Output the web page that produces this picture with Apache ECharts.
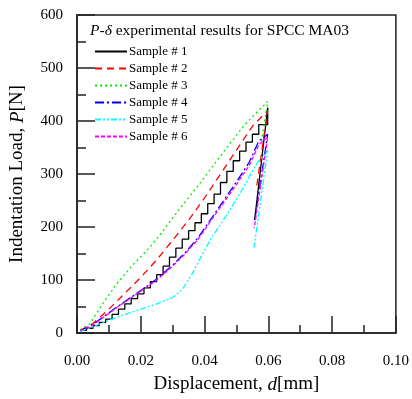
<!DOCTYPE html>
<html>
<head>
<meta charset="utf-8">
<script src="https://cdn.jsdelivr.net/npm/echarts@6/dist/echarts.min.js"></script>
<style>
  html, body { margin: 0; padding: 0; background: #fff; }
  #chart { width: 412px; height: 399px; }
</style>
</head>
<body>
<div id="chart"></div>
<script>
// sample names (legend)
const sampleNames = ['Sample # 1', 'Sample # 2', 'Sample # 3', 'Sample # 4', 'Sample # 5', 'Sample # 6'];

// loading branches [d (mm), P (N)]
const sample1Load = [
    [0.001, 5], [0.003, 9], [0.005, 14], [0.007, 20], [0.009, 26], [0.011, 35],
    [0.013, 45], [0.015, 55], [0.017, 65], [0.019, 74], [0.021, 85], [0.023, 97],
    [0.025, 110], [0.027, 126], [0.029, 143], [0.031, 160], [0.033, 177], [0.035, 193],
    [0.037, 208], [0.039, 225], [0.041, 244], [0.043, 262], [0.045, 284], [0.047, 305],
    [0.049, 325], [0.051, 343], [0.053, 360], [0.055, 375], [0.057, 393], [0.0598, 425]
];
const sample1Unload = [[0.0598, 425], [0.0557, 213]];

const sample2 = [
    [0.001, 5], [0.005, 18], [0.010, 45], [0.015, 75], [0.020, 105], [0.025, 138],
    [0.030, 175], [0.035, 213], [0.040, 255], [0.045, 300], [0.050, 345], [0.055, 390],
    [0.0598, 420], [0.0562, 270]
];
const sample3 = [
    [0.001, 6], [0.004, 17], [0.008, 55], [0.0125, 93], [0.017, 125], [0.0227, 161],
    [0.026, 185], [0.030, 217], [0.034, 248], [0.038, 278], [0.042, 310], [0.046, 342],
    [0.0523, 391], [0.0565, 417], [0.0598, 437], [0.0578, 360]
];
const sample4 = [
    [0.001, 4], [0.005, 16], [0.0125, 49], [0.020, 80], [0.025, 102], [0.030, 128],
    [0.034, 152], [0.038, 180], [0.042, 215], [0.046, 250], [0.050, 285], [0.054, 322],
    [0.057, 362], [0.0598, 375], [0.0558, 215]
];
const sample5 = [
    [0.001, 3], [0.005, 12], [0.010, 24], [0.015, 35], [0.020, 45], [0.025, 55],
    [0.030, 67], [0.033, 82], [0.036, 110], [0.039, 145], [0.042, 178], [0.045, 205],
    [0.048, 233], [0.051, 262], [0.054, 295], [0.057, 325], [0.0598, 345], [0.0555, 161]
];
const sample6 = [
    [0.001, 4], [0.005, 15], [0.0125, 48], [0.020, 79], [0.025, 100], [0.030, 126],
    [0.034, 150], [0.038, 177], [0.042, 212], [0.046, 246], [0.050, 280], [0.054, 316],
    [0.057, 355], [0.0598, 370], [0.0556, 198]
];

const serif = '"Liberation Serif", "Times New Roman", serif';

const chart = echarts.init(document.getElementById('chart'));

const mkLine = (name, data, color, type, extra) => Object.assign({
    name: name,
    type: 'line',
    data: data,
    symbol: 'none',
    smooth: false,
    lineStyle: { color: color, width: 1.3, type: type },
    itemStyle: { color: color },
    z: 3
}, extra || {});

const option = {
    animation: false,
    backgroundColor: '#fff',
    grid: {
        left: 77, right: 14, top: 15, bottom: 63,
        show: true, borderColor: '#222', borderWidth: 1.5
    },
    graphic: [{
        type: 'text',
        left: 90, top: 23,
        style: {
            text: '{i|P}-{i|δ} experimental results for SPCC MA03',
            font: '15.5px ' + serif,
            fill: '#000',
            rich: { i: { fontStyle: 'italic', fontSize: 15.5, fontFamily: serif } }
        }
    }],
    legend: {
        data: sampleNames,
        orient: 'vertical',
        left: 94, top: 44,
        itemWidth: 32, itemHeight: 10, itemGap: 2,
        itemStyle: { opacity: 0 },
        textStyle: { fontFamily: serif, fontSize: 13, lineHeight: 15, color: '#000', padding: [0, 0, 0, -3] },
        padding: 0
    },
    xAxis: {
        type: 'value',
        min: 0, max: 0.1, interval: 0.02,
        name: 'Displacement, {i|d}[mm]',
        nameLocation: 'middle',
        nameGap: 42,
        nameTextStyle: {
            fontFamily: serif, fontSize: 19, color: '#000',
            rich: { i: { fontStyle: 'italic', fontSize: 19, fontFamily: serif } }
        },
        axisLine: { lineStyle: { color: '#222', width: 1.5 } },
        axisTick: { inside: true, length: 17, lineStyle: { color: '#222', width: 1.5 } },
        minorTick: { show: true, splitNumber: 2, length: 8, lineStyle: { color: '#222', width: 1.5 } },
        splitLine: { show: false },
        axisLabel: {
            margin: 21, fontFamily: serif, fontSize: 15, color: '#000',
            formatter: v => v.toFixed(2)
        }
    },
    yAxis: {
        type: 'value',
        min: 0, max: 600, interval: 100,
        name: 'Indentation Load, {i|P}[N]',
        nameLocation: 'middle',
        nameGap: 50,
        nameTextStyle: {
            fontFamily: serif, fontSize: 19, color: '#000',
            rich: { i: { fontStyle: 'italic', fontSize: 19, fontFamily: serif } }
        },
        axisLine: { lineStyle: { color: '#222', width: 1.5 } },
        axisTick: { inside: true, length: 18, lineStyle: { color: '#222', width: 1.5 } },
        minorTick: { show: true, splitNumber: 2, length: 9, lineStyle: { color: '#222', width: 1.5 } },
        splitLine: { show: false },
        axisLabel: { margin: 14, fontFamily: serif, fontSize: 15, color: '#000' }
    },
    series: [
        mkLine(sampleNames[0], sample1Load, '#000000', 'solid', { step: 'end' }),
        mkLine(sampleNames[0], sample1Unload, '#000000', 'solid'),
        mkLine(sampleNames[1], sample2, '#ff0000', [7, 5]),
        mkLine(sampleNames[2], sample3, '#00ee00', [2, 3]),
        mkLine(sampleNames[3], sample4, '#0000ff', [9, 3, 2, 3]),
        mkLine(sampleNames[4], sample5, '#00ffff', [6, 2, 2, 2, 2, 2]),
        mkLine(sampleNames[5], sample6, '#ff00ff', [4, 2])
    ]
};

chart.setOption(option);
window.addEventListener('resize', () => chart.resize());
</script>
</body>
</html>
